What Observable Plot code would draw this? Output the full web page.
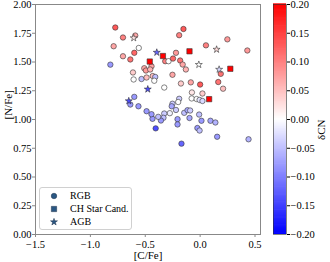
<!DOCTYPE html>
<html><head><meta charset="utf-8">
<script src="https://cdn.jsdelivr.net/npm/d3@7"></script>
<script src="https://cdn.jsdelivr.net/npm/@observablehq/plot@0.6"></script>
<style>
body{margin:0;background:#fff;}
#wrap{position:relative;width:330px;height:262px;font-family:"Liberation Serif",serif;overflow:hidden;}
#main{position:absolute;left:0;top:0;}
#cbar{position:absolute;left:260px;top:0;}
#legend{position:absolute;left:39px;top:187px;width:91px;height:41px;border:1px solid #d0d0d0;border-radius:3px;background:#fff;font-size:10px;}
#legend .row{position:absolute;left:0;height:12px;width:91px;}
#legend svg{position:absolute;left:8px;top:0;}
#legend span{position:absolute;left:30px;top:-1px;line-height:13px;white-space:nowrap;}
</style></head><body><div id="wrap"><div id="main"></div><div id="cbar"></div><div id="legend"></div></div>
<script>
// RGB stars: [C/Fe], [N/Fe], deltaCN
const rgbCF = [-0.773,-0.788,-0.703,-0.591,-0.559,-0.703,-0.600,-0.636,-0.818,-0.318,-0.288,-0.443,-0.509,-0.494,-0.455,-0.612,-0.606,-0.534,-0.488,-0.432,-0.409,-0.418,-0.327,-0.152,-0.191,0.053,0.248,0.430,-0.220,-0.247,-0.182,-0.159,-0.130,-0.252,-0.175,-0.085,0.000,0.165,0.209,0.188,-0.075,0.021,-0.077,-0.032,-0.005,0.021,-0.191,-0.200,-0.252,-0.259,-0.220,-0.276,-0.327,-0.334,-0.357,-0.382,-0.434,-0.443,-0.488,-0.562,-0.600,-0.636,-0.405,-0.206,-0.206,-0.145,-0.115,-0.091,-0.009,-0.097,0.012,0.094,0.139,-0.025,-0.005,0.155,0.441,-0.170];
const rgbNF = [1.800,1.637,1.713,1.730,1.622,1.550,1.580,1.522,1.477,1.507,1.507,1.463,1.446,1.426,1.435,1.409,1.348,1.352,1.365,1.378,1.370,1.337,1.278,1.787,1.733,1.645,1.697,1.600,1.580,1.530,1.513,1.478,1.435,1.389,1.313,1.323,1.304,1.326,1.268,1.397,1.235,1.226,1.183,1.178,1.170,1.161,1.180,1.152,1.137,1.115,1.083,1.055,1.052,1.015,0.991,1.023,1.006,1.046,1.072,1.115,1.197,1.130,0.923,1.003,0.957,1.058,1.081,1.078,1.043,1.013,0.989,0.989,0.974,0.926,0.904,0.850,0.828,0.790];
const rgbDCN = [0.13,0.07,0.10,0.07,0.00,0.07,0.12,0.11,-0.08,0.10,0.00,0.07,0.07,0.08,0.06,0.04,0.00,-0.05,0.05,0.05,-0.05,0.00,0.00,0.13,0.10,0.10,0.08,0.08,0.08,0.12,0.11,0.07,0.06,0.07,0.04,0.07,0.13,0.11,0.05,0.11,0.02,0.04,0.00,0.00,-0.02,-0.03,-0.04,0.00,-0.04,-0.07,-0.04,-0.01,-0.04,-0.05,-0.08,-0.05,-0.08,-0.08,-0.08,-0.08,-0.08,-0.08,-0.14,-0.08,-0.08,-0.05,-0.07,-0.04,-0.05,-0.07,-0.08,-0.07,-0.06,-0.08,-0.05,-0.08,-0.06,-0.12];
// CH star candidates
const chCF = [-0.459,-0.339,-0.097,0.275,0.082];
const chNF = [1.504,1.552,1.593,1.441,1.177];
const chDCN = [0.20,0.20,0.20,0.20,0.20];
// AGB stars
const agbCF = [-0.605,-0.395,0.150,-0.012,0.173,-0.477,-0.650];
const agbNF = [1.709,1.583,1.609,1.477,1.435,1.263,1.161];
const agbDCN = [0.02,-0.12,0.03,0.00,-0.03,-0.14,-0.14];
// ticks
const xTicks = [-1.5,-1.0,-0.5,0.0,0.5];
const yTicks = [0,0.25,0.5,0.75,1.0,1.25,1.5,1.75,2.0];
const cbTicks = [-0.2,-0.15,-0.1,-0.05,0,0.05,0.1,0.15,0.2];
const legendLabels = ["RGB","CH Star Cand.","AGB"];

const toRows = (cf, nf, d) => cf.map((v, i) => ({cf: v, nf: nf[i], d: d[i]}));
const rgb = toRows(rgbCF, rgbNF, rgbDCN);
const ch = toRows(chCF, chNF, chDCN);
const agb = toRows(agbCF, agbNF, agbDCN);

const colorOpt = {type: "linear", domain: [-0.2, 0, 0.2], range: ["#0000ff", "#ffffff", "#ff0000"], interpolate: "rgb", clamp: true};
const font = {fontFamily: "Liberation Serif, serif", fontSize: "10.5px", color: "#000", background: "transparent"};
const edge = {stroke: "#333", strokeWidth: 0.6};

const main = Plot.plot({
  width: 262, height: 262,
  marginLeft: 35, marginRight: 2, marginTop: 4, marginBottom: 28,
  style: font,
  x: {domain: [-1.5, 0.55]},
  y: {domain: [0, 2.0]},
  color: colorOpt,
  marks: [
    Plot.frame({stroke: "#888", strokeWidth: 1}),
    Plot.axisX({ticks: xTicks, tickFormat: d3.format(".1f"), tickSize: 3, tickPadding: 3, label: null, stroke: "#888"}),
    Plot.axisY({ticks: yTicks, tickFormat: d3.format(".2f"), tickSize: 3, tickPadding: 1, label: null, stroke: "#888"}),
    Plot.dot(rgb, {x: "cf", y: "nf", fill: "d", r: 2.7, symbol: "circle", ...edge}),
    Plot.dot(ch, {x: "cf", y: "nf", fill: "d", r: 3.0, symbol: "square", ...edge}),
    Plot.dot(agb, {x: "cf", y: "nf", fill: "d", r: 2.2, symbol: "star", ...edge}),
    Plot.text(["[C/Fe]"], {frameAnchor: "bottom", lineAnchor: "middle", dy: 21, fontSize: 11}),
    Plot.text(["[N/Fe]"], {frameAnchor: "left", dx: -27, rotate: -90, fontSize: 11})
  ]
});
document.getElementById("main").appendChild(main);

const step = 0.002;
const cbVals = d3.range(-0.2, 0.2 - step / 2, step);
const cbar = Plot.plot({
  width: 70, height: 262,
  marginLeft: 13, marginRight: 44, marginTop: 4, marginBottom: 28,
  style: font,
  x: {domain: [0, 1], axis: null},
  y: {domain: [-0.2, 0.2], axis: null},
  color: colorOpt,
  marks: [
    Plot.rect(cbVals, {x1: 0, x2: 1, y1: d => d, y2: d => d + step * 1.6, fill: d => d + step / 2}),
    Plot.frame({stroke: "#333", strokeWidth: 0.6}),
    Plot.axisY({anchor: "right", ticks: cbTicks, tickFormat: d3.format(".2f"), tickSize: 3, tickPadding: 1, label: null}),
    Plot.text(["δCN"], {frameAnchor: "right", dx: 35, rotate: -90, fontSize: 11})
  ]
});
document.getElementById("cbar").appendChild(cbar);

// legend
const lg = document.getElementById("legend");
const symTypes = [d3.symbolCircle, d3.symbolSquare, d3.symbolStar];
const symSizes = [24, 28, 15];
const rowTops = [1.5, 15, 27.5];
legendLabels.forEach((lab, i) => {
  const row = document.createElement("div");
  row.className = "row";
  row.style.top = rowTops[i] + "px";
  const svg = d3.create("svg").attr("width", 12).attr("height", 12);
  svg.append("path").attr("transform", "translate(6,6)")
    .attr("d", d3.symbol(symTypes[i], symSizes[i])())
    .attr("fill", "#2a5783").attr("stroke", "#1a2f48").attr("stroke-width", 0.5);
  row.appendChild(svg.node());
  const sp = document.createElement("span");
  sp.textContent = lab;
  row.appendChild(sp);
  lg.appendChild(row);
});
</script>
</body></html>
